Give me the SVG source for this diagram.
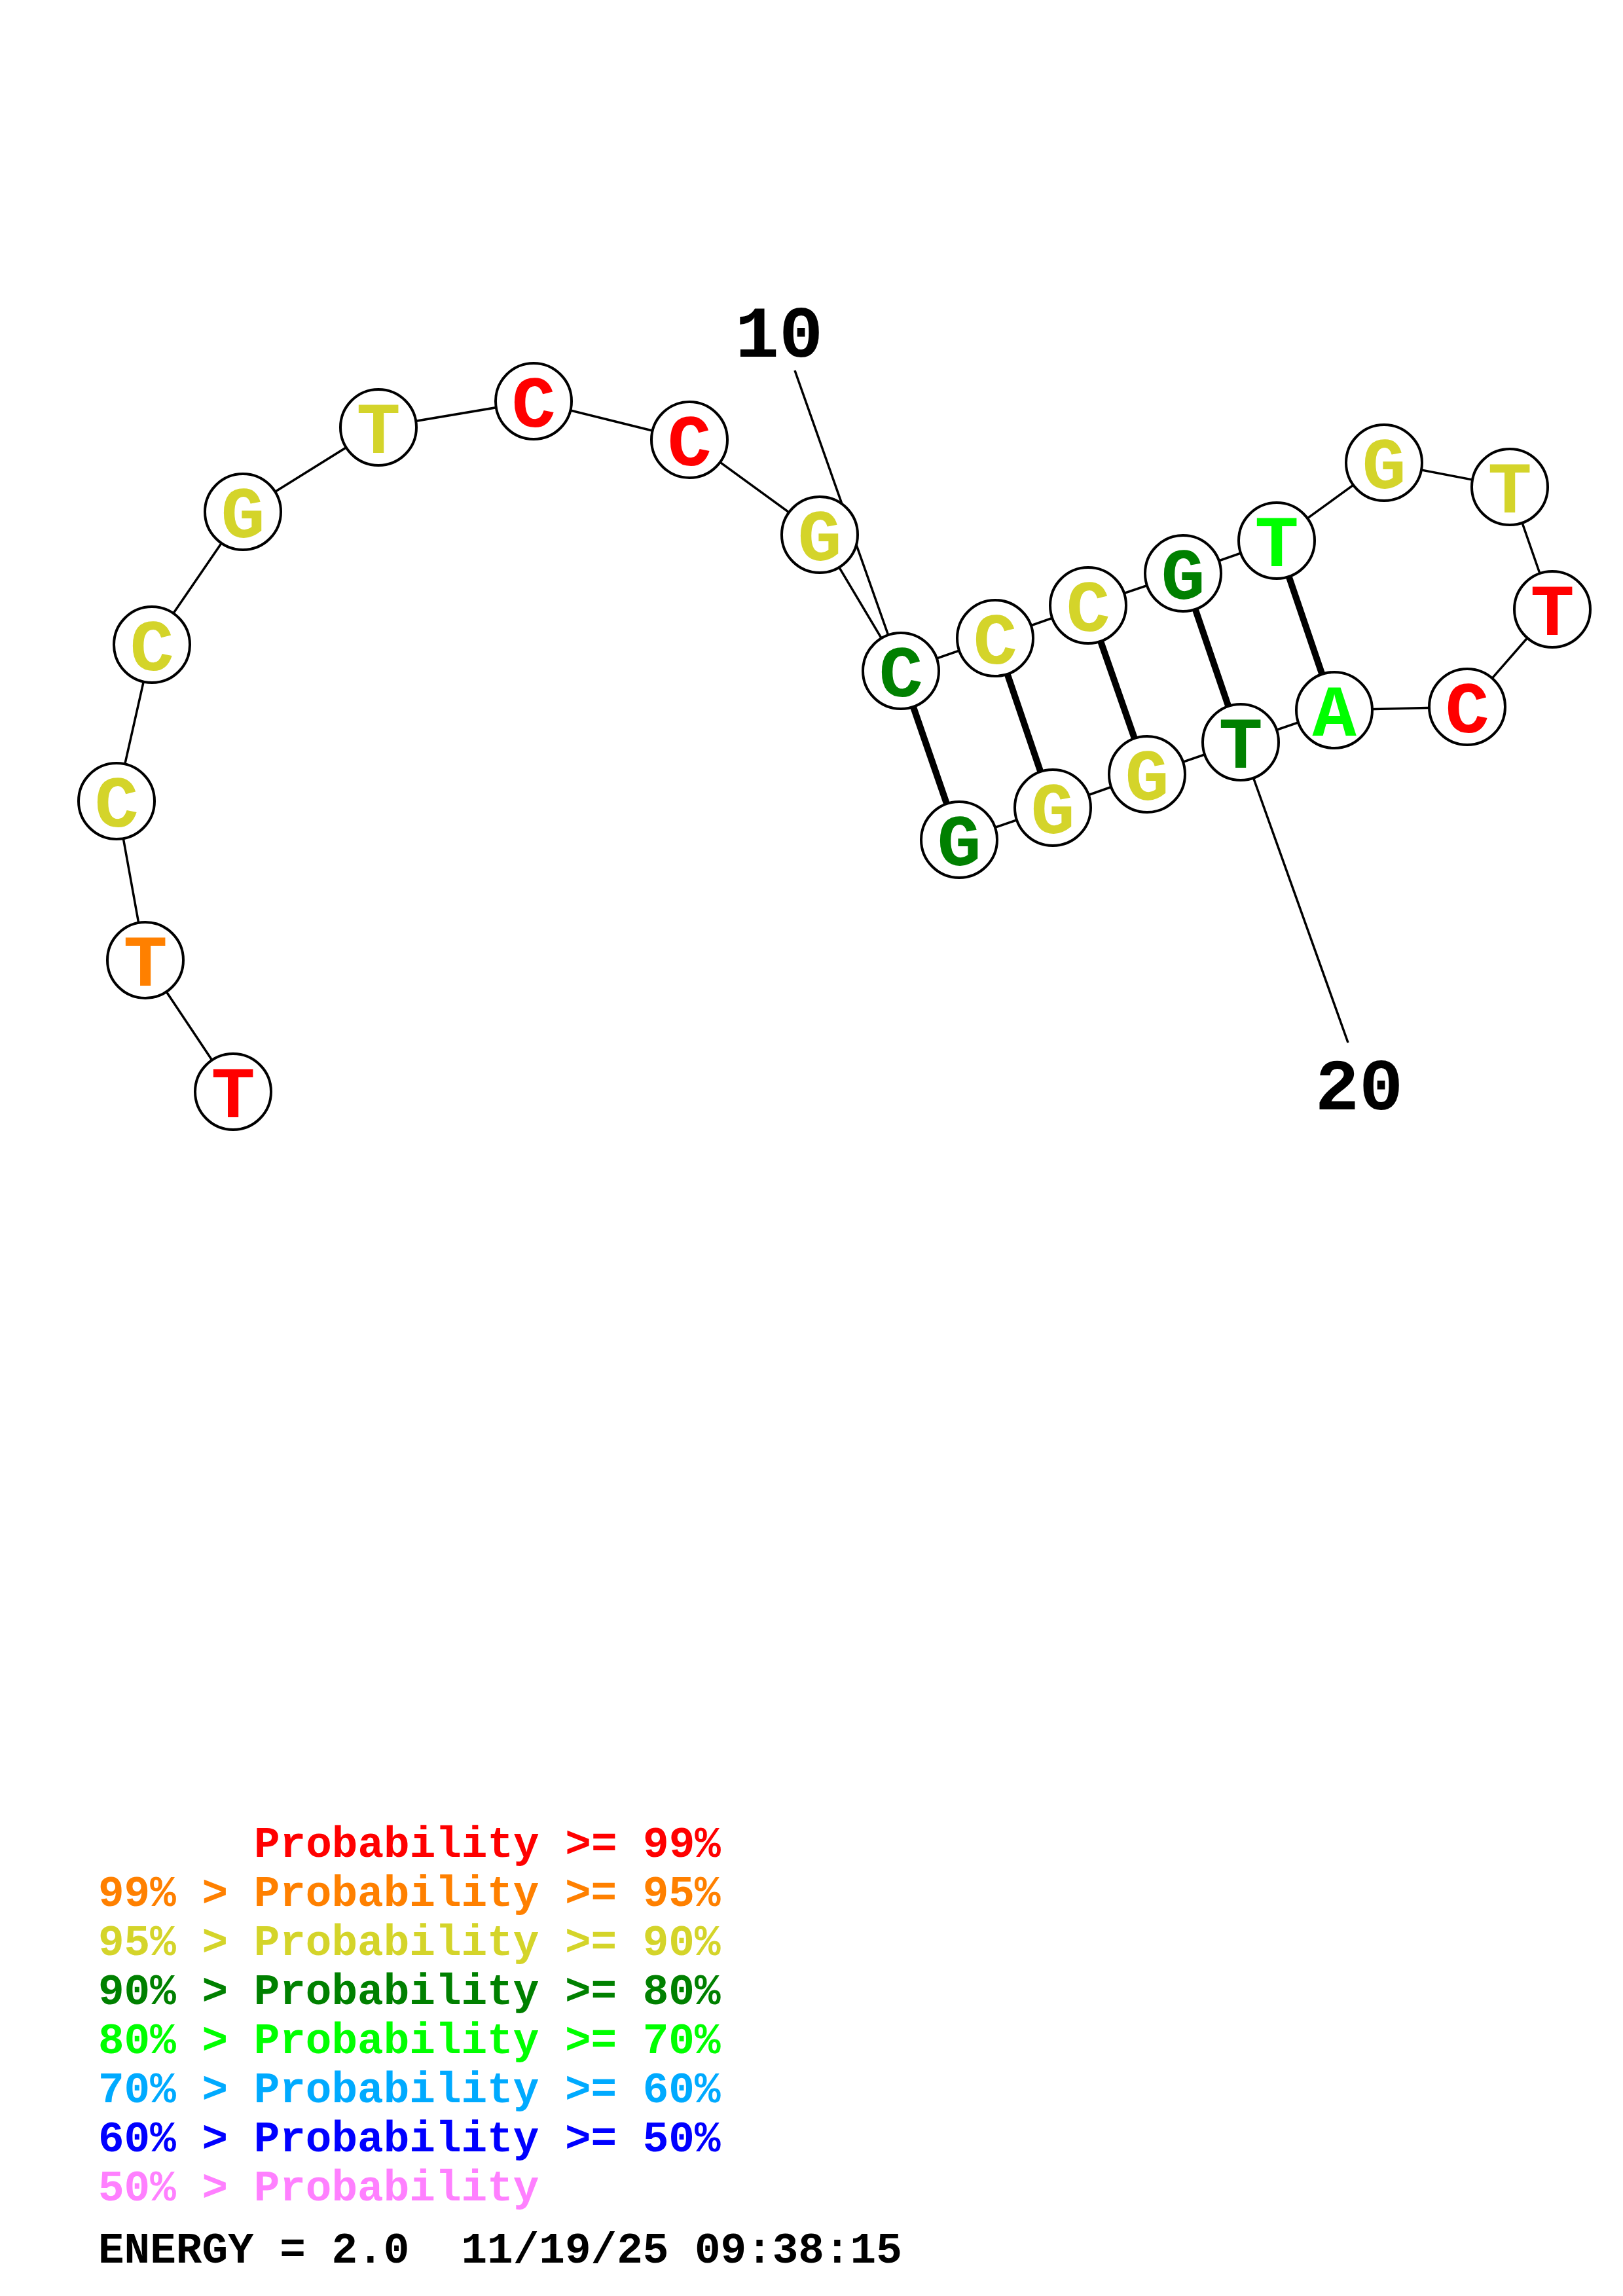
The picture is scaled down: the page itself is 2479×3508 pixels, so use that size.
<svg xmlns="http://www.w3.org/2000/svg" width="2479" height="3508" viewBox="0 0 2479 3508">
<style>
.bb{stroke:#000;stroke-width:3.5;fill:none}
.bp{stroke:#000;stroke-width:10;fill:none}
.nc{fill:#fff;stroke:#000;stroke-width:4}
.nl{font-family:"Liberation Mono","Courier New",monospace;font-weight:bold;font-size:112px;text-anchor:middle}
.num{font-family:"Liberation Mono","Courier New",monospace;font-weight:bold;font-size:112px;text-anchor:middle;fill:#000}
.lg{font-family:"Liberation Mono","Courier New",monospace;font-weight:bold;font-size:66px}
.r{fill:#ff0000}.o{fill:#ff8000}.y{fill:#d4d42a}.g{fill:#008000}.l{fill:#00ff00}.b{fill:#00aaff}.bl{fill:#0000ff}.p{fill:#ff80ff}.k{fill:#000}
</style>
<rect width="2479" height="3508" fill="#fff"/>
<g id="connectors">
<polyline class="bb" points="356,1668 222,1467 178,1224 232,985 371,782 578,653 815,613 1053,672 1252,817 1376,1025 1520,975 1662,925 1807,876 1950,826 2114,707 2306,744 2371,931 2241,1080 2038,1085 1895,1134 1752,1183 1608,1234 1465,1283"/>
<line class="bp" x1="1376" y1="1025" x2="1465" y2="1283"/>
<line class="bp" x1="1520" y1="975" x2="1608" y2="1234"/>
<line class="bp" x1="1662" y1="925" x2="1752" y2="1183"/>
<line class="bp" x1="1807" y1="876" x2="1895" y2="1134"/>
<line class="bp" x1="1950" y1="826" x2="2038" y2="1085"/>
<line class="bb" x1="1214" y1="566" x2="1376" y2="1025"/>
<line class="bb" x1="1895" y1="1134" x2="2059" y2="1593"/>
</g>
<g id="label-10"><text class="num" x="1190" y="545">10</text></g>
<g id="label-20"><text class="num" x="2076" y="1695">20</text></g>
<g id="n1"><circle class="nc" cx="356" cy="1668" r="58"/><text class="nl r" x="356" y="1707">T</text></g>
<g id="n2"><circle class="nc" cx="222" cy="1467" r="58"/><text class="nl o" x="222" y="1506">T</text></g>
<g id="n3"><circle class="nc" cx="178" cy="1224" r="58"/><text class="nl y" x="178" y="1263">C</text></g>
<g id="n4"><circle class="nc" cx="232" cy="985" r="58"/><text class="nl y" x="232" y="1024">C</text></g>
<g id="n5"><circle class="nc" cx="371" cy="782" r="58"/><text class="nl y" x="371" y="821">G</text></g>
<g id="n6"><circle class="nc" cx="578" cy="653" r="58"/><text class="nl y" x="578" y="692">T</text></g>
<g id="n7"><circle class="nc" cx="815" cy="613" r="58"/><text class="nl r" x="815" y="652">C</text></g>
<g id="n8"><circle class="nc" cx="1053" cy="672" r="58"/><text class="nl r" x="1053" y="711">C</text></g>
<g id="n9"><circle class="nc" cx="1252" cy="817" r="58"/><text class="nl y" x="1252" y="856">G</text></g>
<g id="n10"><circle class="nc" cx="1376" cy="1025" r="58"/><text class="nl g" x="1376" y="1064">C</text></g>
<g id="n11"><circle class="nc" cx="1520" cy="975" r="58"/><text class="nl y" x="1520" y="1014">C</text></g>
<g id="n12"><circle class="nc" cx="1662" cy="925" r="58"/><text class="nl y" x="1662" y="964">C</text></g>
<g id="n13"><circle class="nc" cx="1807" cy="876" r="58"/><text class="nl g" x="1807" y="915">G</text></g>
<g id="n14"><circle class="nc" cx="1950" cy="826" r="58"/><text class="nl l" x="1950" y="865">T</text></g>
<g id="n15"><circle class="nc" cx="2114" cy="707" r="58"/><text class="nl y" x="2114" y="746">G</text></g>
<g id="n16"><circle class="nc" cx="2306" cy="744" r="58"/><text class="nl y" x="2306" y="783">T</text></g>
<g id="n17"><circle class="nc" cx="2371" cy="931" r="58"/><text class="nl r" x="2371" y="970">T</text></g>
<g id="n18"><circle class="nc" cx="2241" cy="1080" r="58"/><text class="nl r" x="2241" y="1119">C</text></g>
<g id="n19"><circle class="nc" cx="2038" cy="1085" r="58"/><text class="nl l" x="2038" y="1124">A</text></g>
<g id="n20"><circle class="nc" cx="1895" cy="1134" r="58"/><text class="nl g" x="1895" y="1173">T</text></g>
<g id="n21"><circle class="nc" cx="1752" cy="1183" r="58"/><text class="nl y" x="1752" y="1222">G</text></g>
<g id="n22"><circle class="nc" cx="1608" cy="1234" r="58"/><text class="nl y" x="1608" y="1273">G</text></g>
<g id="n23"><circle class="nc" cx="1465" cy="1283" r="58"/><text class="nl g" x="1465" y="1322">G</text></g>
<g id="legend">
<text class="lg r" x="388" y="2837">Probability &gt;= 99%</text>
<text class="lg o" x="150" y="2912">99% &gt; Probability &gt;= 95%</text>
<text class="lg y" x="150" y="2987">95% &gt; Probability &gt;= 90%</text>
<text class="lg g" x="150" y="3062">90% &gt; Probability &gt;= 80%</text>
<text class="lg l" x="150" y="3137">80% &gt; Probability &gt;= 70%</text>
<text class="lg b" x="150" y="3212">70% &gt; Probability &gt;= 60%</text>
<text class="lg bl" x="150" y="3287">60% &gt; Probability &gt;= 50%</text>
<text class="lg p" x="150" y="3362">50% &gt; Probability</text>
<text class="lg k" x="150" y="3457" xml:space="preserve">ENERGY = 2.0  11/19/25 09:38:15</text>
</g>
</svg>
